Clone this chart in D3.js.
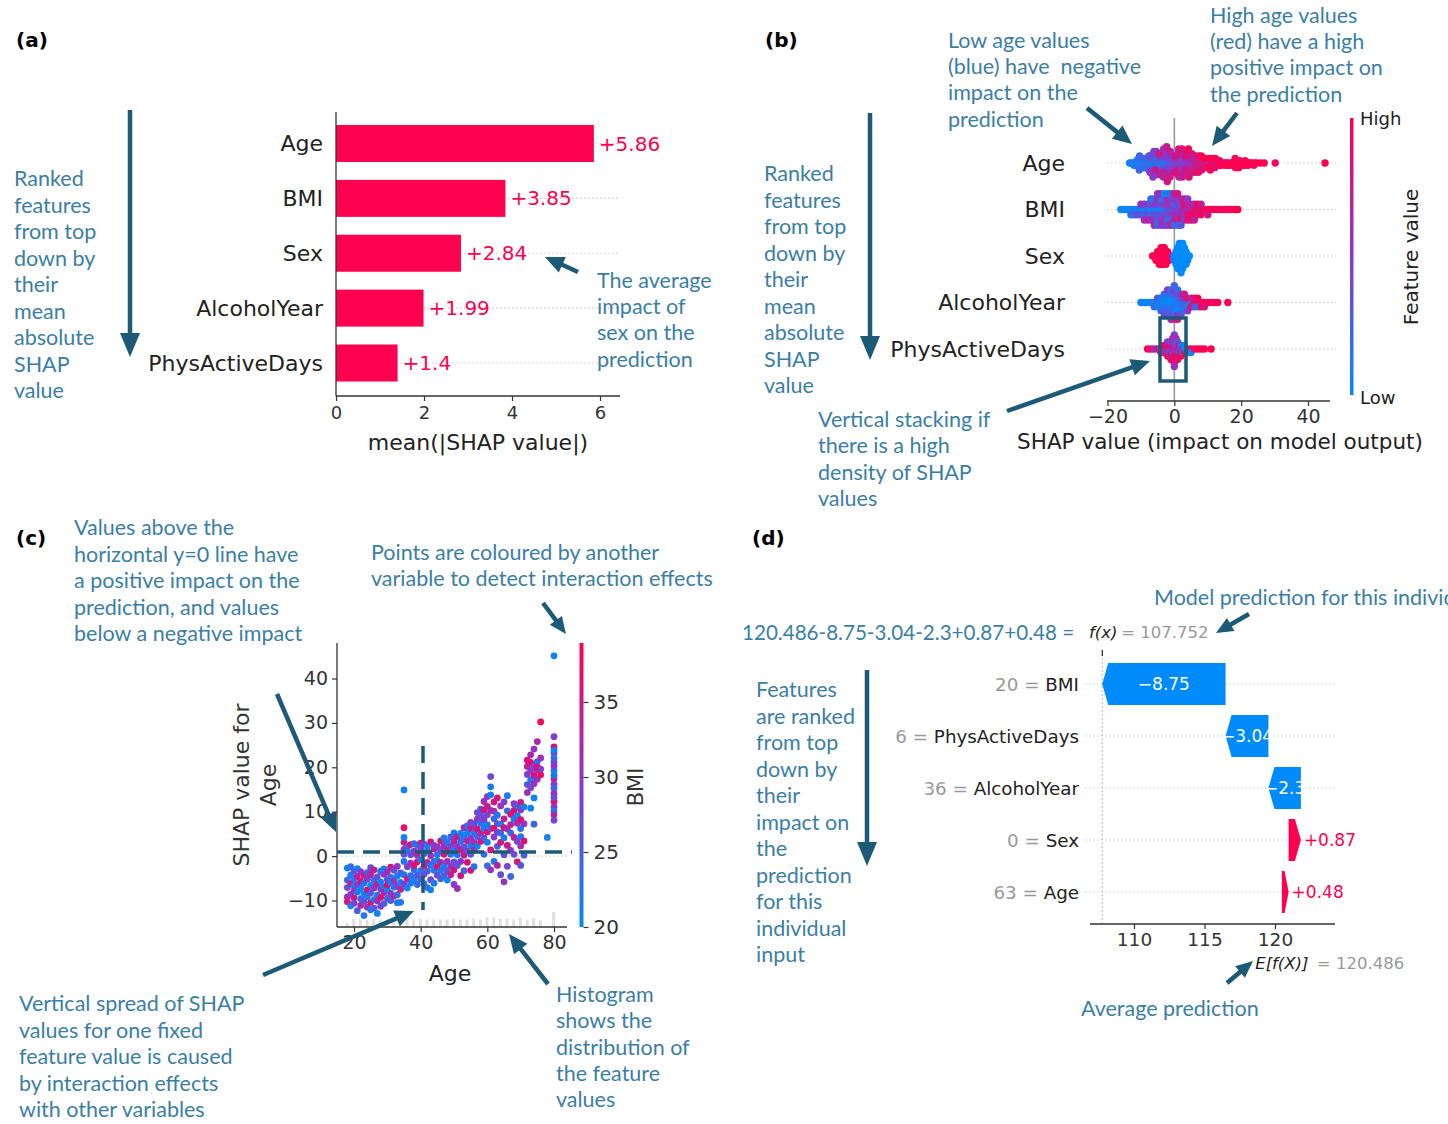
<!DOCTYPE html>
<html><head><meta charset="utf-8">
<script src="https://cdn.jsdelivr.net/npm/d3@7"></script>
<style>body{margin:0;background:#fff}svg text{font-family:"DejaVu Sans",sans-serif;white-space:pre}</style>
</head><body><svg id="c" width="1448" height="1124"></svg>
<script>
// ---------------- DATA ----------------
const features = ["Age","BMI","Sex","AlcoholYear","PhysActiveDays"];
const meanAbsShap = [5.86,3.85,2.84,1.99,1.4];
const meanAbsLabels = ["+5.86","+3.85","+2.84","+1.99","+1.4"];
const barTicks = [0,2,4,6];
const beeTicks = [-20,0,20,40];
const depXTicks = [20,40,60,80];
const depYTicks = [-10,0,10,20,30,40];
const bmiTicks = [20,25,30,35];
const wfTicks = [110,115,120];

// dependence plot: [age, SHAP value for Age, BMI]
const ageDependence = [
[18,-5.4,24],[18,-9.2,31],[18,-2.7,21],[18,-10.3,36],[18,-7.1,27],
[19,-4.3,22],[19,-8.6,29],[19,-11.2,21],[19,-6.2,34],[19,-2.4,23],
[20,-3.3,26],[20,-6.7,21],[20,-9.4,35],[20,-10.6,28],[20,-5.1,22],[20,-7.8,31],
[21,-4.6,33],[21,-8.1,22],[21,-12.3,25],[21,-6.4,29],[21,-2.8,21],
[22,-5.7,36],[22,-9.6,24],[22,-7.3,21],[22,-3.5,30],[22,-11.1,32],
[23,-6.1,22],[23,-10.2,27],[23,-4.4,35],[23,-8.5,21],[23,-13.4,23],
[24,-5.2,29],[24,-7.6,37],[24,-9.1,22],[24,-3.7,25],[24,-11.5,31],
[25,-6.6,21],[25,-4.2,33],[25,-8.3,26],[25,-12.1,22],[25,-10.4,36],[25,-2.6,28],
[26,-5.5,23],[26,-7.2,30],[26,-9.8,21],[26,-3.1,34],[26,-11.7,26],
[27,-6.3,35],[27,-8.8,22],[27,-4.7,27],[27,-10.1,31],[27,-12.9,21],
[28,-5.8,21],[28,-7.4,28],[28,-9.3,36],[28,-3.4,23],[28,-11.3,29],
[29,-4.1,30],[29,-6.9,22],[29,-8.2,34],[29,-10.7,25],[29,-2.9,21],
[30,-5.3,27],[30,-7.7,21],[30,-3.6,32],[30,-9.5,24],[30,-6.5,37],
[31,-4.8,23],[31,-8.4,29],[31,-6.0,21],[31,-2.5,35],[31,-10.0,26],
[32,-5.6,31],[32,-7.0,22],[32,-3.2,27],[32,-9.0,33],
[33,-4.5,21],[33,-6.8,28],[33,-8.7,24],[33,-10.5,22],[33,-2.3,30],
[34,-3.8,25],[34,-5.9,21],[34,-7.5,33],[34,-10.4,22],
[35,-1.2,22],[35,3.1,36],[35,6.4,37],[35,14.9,21],[35,-4.2,23],[35,-6.3,29],[35,0.4,26],[35,4.2,21],[35,1.5,31],
[36,-2.4,28],[36,1.3,22],[36,-5.1,34],[36,2.2,25],[36,-7.2,21],
[37,-1.6,31],[37,-4.4,23],[37,2.6,36],[37,0.3,27],[37,-6.1,22],
[38,-3.1,22],[38,1.1,29],[38,-2.2,35],[38,2.8,24],[38,-5.4,21],
[39,0.2,33],[39,-4.3,26],[39,2.4,22],[39,-1.3,37],[39,-6.4,24],
[40,-3.3,21],[40,1.4,30],[40,2.9,34],[40,-5.2,25],[40,-0.8,22],[40,2.1,28],
[41,-2.3,36],[41,0.6,23],[41,-6.2,21],[41,2.7,30],[41,-4.1,27],
[42,1.2,22],[42,-1.4,33],[42,-3.4,26],[42,2.3,21],[42,-7.1,24],
[43,0.1,31],[43,-2.1,22],[43,3.2,36],[43,-5.3,28],[43,-7.6,21],
[44,-1.2,25],[44,1.6,34],[44,-3.2,21],[44,2.4,29],[44,-6.1,22],
[45,0.3,22],[45,-2.4,37],[45,-4.3,27],[45,2.1,31],[45,-1.1,21],
[46,1.3,28],[46,-3.2,23],[46,3.4,35],[46,-5.1,25],[46,-1.4,33],
[47,-2.2,21],[47,2.3,30],[47,0.4,36],[47,-4.4,24],[47,4.1,22],
[48,1.2,35],[48,-3.3,27],[48,3.1,22],[48,-1.2,31],[48,-5.4,21],
[49,0.4,23],[49,2.2,28],[49,-4.2,34],[49,4.3,25],[49,-2.3,30],
[50,1.1,21],[50,3.3,33],[50,-1.3,27],[50,5.2,22],[50,-6.4,29],[50,-3.1,36],
[51,2.2,30],[51,0.3,22],[51,4.4,35],[51,-2.1,26],[51,-7.3,31],
[52,3.3,24],[52,1.4,34],[52,5.1,21],[52,-1.2,29],[52,-4.4,36],
[53,2.1,27],[53,4.3,22],[53,6.4,31],[53,0.2,35],[53,-3.3,25],
[54,3.4,33],[54,5.2,21],[54,1.1,28],[54,6.8,24],[54,-1.4,36],
[55,4.1,30],[55,2.3,22],[55,6.2,35],[55,0.4,26],[55,7.6,29],[55,-3.2,37],
[56,5.3,22],[56,3.1,31],[56,7.2,27],[56,1.3,34],[56,-2.4,23],
[57,6.1,36],[57,4.4,24],[57,8.3,30],[57,2.2,21],[57,9.8,28],
[58,7.4,22],[58,5.1,33],[58,9.2,27],[58,3.3,36],[58,10.6,25],
[59,8.2,30],[59,6.3,21],[59,10.4,35],[59,4.1,26],[59,12.3,31],[59,0.4,23],
[60,9.3,28],[60,7.1,22],[60,11.2,34],[60,5.4,36],[60,13.4,30],[60,-2.2,24],[60,3.1,21],
[61,17.9,28],[61,15.6,22],[61,10.3,33],[61,6.2,26],[61,1.4,36],[61,13.8,21],[61,-3.1,30],
[62,12.2,35],[62,8.4,24],[62,4.3,29],[62,-1.2,22],[62,10.1,31],[62,6.3,37],
[63,9.2,22],[63,5.4,30],[63,13.1,36],[63,2.2,25],[63,7.3,28],[63,-2.1,33],
[64,11.3,31],[64,7.2,21],[64,3.1,36],[64,-4.2,27],[64,5.2,24],
[65,8.4,34],[65,4.1,22],[65,12.2,29],[65,0.3,26],[65,6.4,37],[65,-5.8,30],
[66,10.2,23],[66,6.1,31],[66,2.4,35],[66,-2.3,28],[66,13.6,22],
[67,9.4,36],[67,5.2,25],[67,1.3,30],[67,-4.6,24],[67,7.1,33],
[68,11.8,30],[68,8.3,22],[68,4.2,34],[68,0.4,27],[68,10.3,37],
[69,11.2,24],[69,7.4,32],[69,3.3,28],[69,-1.3,36],[69,9.1,21],
[70,12.1,35],[70,10.4,29],[70,6.2,23],[70,2.3,31],[70,-2.1,26],[70,8.2,37],[70,4.4,22],
[71,11.1,22],[71,7.3,30],[71,3.4,36],[71,0.2,25],
[72,20.2,33],[72,18.4,29],[72,21.6,36],[72,14.3,31],[72,16.1,26],
[73,21.1,37],[73,19.3,30],[73,17.2,22],[73,10.8,21],[73,15.4,28],[73,22.8,32],
[74,20.4,29],[74,18.2,35],[74,16.3,31],[74,24.1,30],[74,7.2,25],[74,13.1,21],
[75,19.4,34],[75,21.3,23],[75,25.8,32],[75,17.3,30],[75,20.1,36],
[76,30.2,38],[76,18.3,37],[76,22.1,31],[76,19.6,29],
[78,4.2,21],
[80,45.1,21],[80,26.9,29],[80,24.6,36],[80,23.2,33],[80,22.1,22],[80,21.2,27],[80,19.3,21],[80,17.4,35],[80,16.2,29],
[80,15.3,24],[80,14.1,31],[80,12.3,37],[80,11.1,30],[80,10.2,22],[80,9.3,33],[80,8.1,28],[80,23.8,21],[80,20.3,30],[80,18.2,22],[80,13.2,27]
];

// beeswarm rows: [SHAP value, normalised feature value 0..1]
const bmiRow = [[-16,.02],[-15,.05],[-14,.08],[-13,.03],[-13,.15],[-12,.1],[-12,.25],[-11,.05],[-11,.4],[-10,.12],[-10,.3],[-10,.55],
[-9,.08],[-9,.2],[-9,.45],[-9,.6],[-8,.1],[-8,.35],[-8,.5],[-8,.7],[-7,.05],[-7,.25],[-7,.4],[-7,.6],[-7,.15],
[-6,.1],[-6,.3],[-6,.45],[-6,.55],[-6,.2],[-6,.65],[-5,.05],[-5,.35],[-5,.5],[-5,.25],[-5,.6],[-5,.15],[-5,.45],
[-4,.1],[-4,.3],[-4,.4],[-4,.55],[-4,.2],[-4,.5],[-4,.7],[-3,.15],[-3,.35],[-3,.45],[-3,.6],[-3,.25],[-3,.5],[-3,.05],
[-2,.3],[-2,.4],[-2,.55],[-2,.2],[-2,.65],[-2,.45],[-2,.1],[-1,.35],[-1,.5],[-1,.6],[-1,.25],[-1,.45],[-1,.7],[-1,.15],
[0,.4],[0,.55],[0,.3],[0,.65],[0,.5],[0,.2],[0,.75],[1,.45],[1,.6],[1,.35],[1,.7],[1,.55],[1,.25],[1,.8],
[2,.5],[2,.65],[2,.4],[2,.85],[2,.6],[2,.3],[3,.7],[3,.55],[3,.9],[3,.45],[3,.8],[4,.6],[4,.85],[4,.75],[4,.95],[4,.5],
[5,.7],[5,.9],[5,.65],[5,.8],[6,.85],[6,.95],[6,.6],[6,.75],[7,.9],[7,.8],[7,1],[8,.85],[8,.95],[8,.7],[9,.9],
[10,1],[10,.8],[11,.95],[12,.9],[13,1],[14,.95],[15,.9],[16,1],[17,.95],[18,1],[19,1]];
const sexRow = [[-6.5,1],[-6,1],[-5.5,1],[-5.5,1],[-5,1],[-5,1],[-5,1],[-4.5,1],[-4.5,1],[-4.5,1],[-4.5,1],
[-4,1],[-4,1],[-4,1],[-4,1],[-4,1],[-3.5,1],[-3.5,1],[-3.5,1],[-3.5,1],[-3.5,1],[-3,1],[-3,1],[-3,1],[-3,1],[-3,1],
[-2.5,1],[-2.5,1],[-2.5,1],[-2.5,1],[-2,1],[-2,1],[-2,1],[-1.5,1],[-1.5,1],[-1,1],[-0.5,.6],
[0,0],[0,0],[0.5,0],[0.5,0],[0.5,0],[0.5,0],[1,0],[1,0],[1,0],[1,0],[1,0],[1,0],
[1.5,0],[1.5,0],[1.5,0],[1.5,0],[1.5,0],[1.5,0],[1.5,0],[2,0],[2,0],[2,0],[2,0],[2,0],[2,0],[2,0],[2,0],
[2.5,0],[2.5,0],[2.5,0],[2.5,0],[2.5,0],[2.5,0],[2.5,0],[3,0],[3,0],[3,0],[3,0],[3,0],[3.5,0],[3.5,0],[3.5,0],[3.5,0],[4,0],[4,0],[4.5,0]];
const alcoholRow = [[-10,.05],[-9,.1],[-8,0],[-7,.1],[-6,.05],[-6,.2],[-5,.1],[-5,.05],[-5,.3],[-4,0],[-4,.1],[-4,.15],[-4,.2],
[-3,.05],[-3,.1],[-3,0],[-3,.25],[-3,.15],[-3,.4],[-2,0],[-2,.1],[-2,.05],[-2,.2],[-2,.15],[-2,.3],[-2,.5],
[-1,.05],[-1,.1],[-1,0],[-1,.2],[-1,.15],[-1,.35],[-1,.25],[-1,.6],[0,0],[0,.1],[0,.05],[0,.2],[0,.3],[0,.15],[0,.45],[0,.7],[0,.25],
[1,.1],[1,.05],[1,.2],[1,0],[1,.35],[1,.5],[1,.15],[1,.8],[2,.1],[2,.2],[2,.3],[2,.05],[2,.55],[2,.4],
[3,.15],[3,.25],[3,.6],[3,.1],[3,.75],[4,.3],[4,.05],[4,.9],[4,.5],[5,.2],[5,.85],[5,.65],[6,.95],[6,.4],[6,.8],
[7,.9],[7,.15],[7,1],[8,.85],[8,.95],[9,1],[9,.8],[10,.95],[11,1],[12,.9],[13,1],[16,1]];
const physRow = [[-8,1],[-7,.9],[-6,.6],[-5,.8],[-4,.3],[-4,.9],[-3,.5],[-3,.7],[-3,1],[-2,.4],[-2,.6],[-2,.8],[-2,1],[-2,.5],
[-1.5,.7],[-1.5,.4],[-1.5,.9],[-1,.5],[-1,.6],[-1,.8],[-1,1],[-1,.3],[-1,.7],[-0.5,.5],[-0.5,.6],[-0.5,.9],[-0.5,.4],[-0.5,.7],[-0.5,1],[-0.5,.55],
[0,.5],[0,.6],[0,.7],[0,.8],[0,.4],[0,.9],[0,.65],[0,1],[0,.45],[0,.55],[0.5,.6],[0.5,.7],[0.5,.5],[0.5,.9],[0.5,.4],[0.5,.8],[0.5,.65],
[1,.5],[1,.7],[1,.6],[1,1],[1,.3],[1,.85],[1.5,.6],[1.5,.4],[1.5,.9],[2,.5],[2,.8],[2,.2],[2,1],[2.5,.6],[2.5,.1],
[3,.1],[3,.9],[3,.05],[3.5,0],[4,.1],[4,.95],[5,1],[5,.05],[6,.9],[7,1],[8,.95],[9,1],[11,1]];

// waterfall (single prediction)
const wfFeatures = ["BMI","PhysActiveDays","AlcoholYear","Sex","Age"];
const wfFeatureValues = ["20","6","36","0","63"];
const wfShap = [-8.75,-3.04,-2.3,0.87,0.48];
const wfLabels = ["\u22128.75","\u22123.04","\u22122.3","+0.87","+0.48"];
const baseValue = 120.486;
const fxValue = 107.752;

// ---------------- DRAWING ----------------
const svg = d3.select("#c");
const TXT = "#3a7ea6", TEAL = "#1c5a78", RED = "#ff0051", BLUE = "#008bfb", DARK = "#222", GREY = "#999";
const cmap = d3.piecewise(d3.interpolateRgb, [BLUE, "#8a38cc", RED]);
const ANN = "Lato, 'Noto Sans', sans-serif";
const ANN_SIZE = 21.5;

function arrow(x1,y1,x2,y2,o={}) {
  const w=o.w||4.5, hl=o.hl||19, hw=o.hw||17;
  const dx=x2-x1, dy=y2-y1, L=Math.hypot(dx,dy), ux=dx/L, uy=dy/L, px=-uy, py=ux;
  const bx=x2-ux*hl, by=y2-uy*hl;
  svg.append("line").attr("x1",x1).attr("y1",y1).attr("x2",bx+ux*2).attr("y2",by+uy*2)
    .attr("stroke",TEAL).attr("stroke-width",w);
  svg.append("path").attr("d",`M${x2},${y2}L${bx+px*hw/2},${by+py*hw/2}L${bx-px*hw/2},${by-py*hw/2}Z`).attr("fill",TEAL);
}
function lines(x, y0, dy, arr, size=ANN_SIZE, color=TXT) {
  arr.forEach((t,i)=>svg.append("text").attr("x",x).attr("y",y0+i*dy).attr("dominant-baseline","central")
    .style("font-family",ANN).attr("font-size",size).attr("fill",color).text(t));
}
function label(x,y,t,o={}) {
  return svg.append("text").attr("x",x).attr("y",y).attr("dominant-baseline","central")
    .attr("text-anchor",o.anchor||"start").attr("font-size",o.size||20).attr("fill",o.color||DARK)
    .attr("font-weight",o.weight||"normal").text(t);
}
function vlabel(x,y,t,size) {
  svg.append("text").attr("transform",`translate(${x},${y}) rotate(-90)`).attr("text-anchor","middle")
    .attr("dominant-baseline","central").attr("font-size",size).attr("fill","#333").text(t);
}
function gridLine(x1,x2,y) {
  svg.append("line").attr("x1",x1).attr("x2",x2).attr("y1",y).attr("y2",y)
    .attr("stroke","#cccccc").attr("stroke-width",1.2).attr("stroke-dasharray","1.5,2.5");
}
function styleAxis(g, size) {
  g.select(".domain").remove();
  g.selectAll(".tick line").attr("stroke","#333").attr("stroke-width",1.2);
  g.selectAll(".tick text").attr("font-size",size).attr("fill","#333").style("font-family","'DejaVu Sans'");
}
const minus = d => d<0 ? "\u2212"+Math.abs(d) : String(d);

// panel labels
label(16,40,"(a)",{weight:"bold",size:20,color:"#000"});
label(765,40,"(b)",{weight:"bold",size:20,color:"#000"});
label(16,538,"(c)",{weight:"bold",size:20,color:"#000"});
label(752,538,"(d)",{weight:"bold",size:20,color:"#000"});

// shared colour gradient
const defs = svg.append("defs");
const lg = defs.append("linearGradient").attr("id","cbar").attr("x1",0).attr("x2",0).attr("y1",1).attr("y2",0);
d3.range(0,1.01,0.1).forEach(t=>lg.append("stop").attr("offset",t).attr("stop-color",cmap(t)));

// ===== (a) bar chart =====
{
  const x = d3.scaleLinear().domain([0,6]).range([336,600]);
  const y = d3.scalePoint().domain(features).range([143.5,363]);
  features.forEach(f=>gridLine(336,620,y(f)));
  svg.append("g").selectAll("rect").data(features).join("rect")
    .attr("x",x(0)).attr("y",f=>y(f)-18.5).attr("height",37)
    .attr("width",(f,i)=>x(meanAbsShap[i])-x(0)).attr("fill",RED);
  features.forEach((f,i)=>{
    label(x(meanAbsShap[i])+5,y(f),meanAbsLabels[i],{size:20,color:RED});
    label(323,y(f),f,{anchor:"end",size:22});
  });
  svg.append("line").attr("x1",336).attr("x2",336).attr("y1",112).attr("y2",396).attr("stroke","#333").attr("stroke-width",1.3);
  svg.append("line").attr("x1",336).attr("x2",620).attr("y1",396).attr("y2",396).attr("stroke","#333").attr("stroke-width",1.3);
  const g = svg.append("g").attr("transform","translate(0,396)")
    .call(d3.axisBottom(x).tickValues(barTicks).tickFormat(d3.format("d")).tickSize(5).tickPadding(5));
  styleAxis(g,18);
  label(478,442,"mean(|SHAP value|)",{anchor:"middle",size:22});
  arrow(130,110,130,357,{w:4.5,hl:24,hw:20});
  lines(14,178,26.5,["Ranked","features","from top","down by","their","mean","absolute","SHAP","value"]);
  lines(597,280,26.2,["The average","impact of","sex on the","prediction"]);
  arrow(578,272,545,257);
}

// ===== (b) beeswarm =====
function beeswarm(vals, rowHeightPx) {
  const n = vals.length, mn = d3.min(vals), mx = d3.max(vals), nbins = 100;
  const quant = vals.map(v=>Math.round(nbins*(v-mn)/(mx-mn+1e-8)));
  const inds = d3.range(n).sort((a,b)=>quant[a]-quant[b] || a-b);
  let layer=0, last=-1; const ys = new Array(n).fill(0);
  inds.forEach(i=>{ if(quant[i]!==last) layer=0; ys[i]=Math.ceil(layer/2)*((layer%2)*2-1); layer++; last=quant[i]; });
  const m = d3.max(ys.map(v=>v+1));
  return ys.map(v=>v*0.9*(rowHeightPx/m));
}
{
  const x = d3.scaleLinear().domain([-20,40]).range([1107.5,1308]);
  const y = d3.scalePoint().domain(features).range([163,349]);
  const step = 46.5;
  features.forEach(f=>gridLine(1107,1336,y(f)));
  svg.append("line").attr("x1",x(0)).attr("x2",x(0)).attr("y1",118).attr("y2",401).attr("stroke","#999").attr("stroke-width",1.6);
  const ages = ageDependence.map(d=>d[0]).sort(d3.ascending);
  const aMin = d3.quantile(ages,0.05), aMax = d3.quantile(ages,0.95);
  const ageRow = ageDependence.map(d=>[d[1], Math.max(0,Math.min(1,(d[0]-aMin)/(aMax-aMin)))]);
  const rows = {Age:ageRow, BMI:bmiRow, Sex:sexRow, AlcoholYear:alcoholRow, PhysActiveDays:physRow};
  features.forEach(f=>{
    const data = rows[f];
    const offs = beeswarm(data.map(d=>d[0]), 0.5*step);
    svg.append("g").selectAll("circle").data(data).join("circle")
      .attr("cx",d=>x(d[0])).attr("cy",(d,i)=>y(f)+offs[i]).attr("r",3.7)
      .attr("fill",d=>cmap(d[1]));
    label(1065,y(f),f,{anchor:"end",size:22});
  });
  svg.append("line").attr("x1",1107).attr("x2",1330).attr("y1",401).attr("y2",401).attr("stroke","#333").attr("stroke-width",1.3);
  const g = svg.append("g").attr("transform","translate(0,401)")
    .call(d3.axisBottom(x).tickValues(beeTicks).tickFormat(minus).tickSize(5).tickPadding(4));
  styleAxis(g,19);
  label(1220,441,"SHAP value (impact on model output)",{anchor:"middle",size:21.5});
  svg.append("rect").attr("x",1350).attr("y",118).attr("width",3.5).attr("height",277).attr("fill","url(#cbar)");
  label(1360,118,"High",{size:18});
  label(1360,397,"Low",{size:18});
  svg.append("text").attr("transform","translate(1411,257) rotate(-90)").attr("text-anchor","middle")
    .attr("dominant-baseline","central").attr("font-size",20).attr("fill",DARK).text("Feature value");
  svg.append("rect").attr("x",1160).attr("y",318).attr("width",26).attr("height",63)
    .attr("fill","none").attr("stroke",TEAL).attr("stroke-width",3.5);
  lines(948,40,26.2,["Low age values","(blue) have  negative","impact on the","prediction"]);
  lines(1210,15,26.2,["High age values","(red) have a high","positive impact on","the prediction"]);
  arrow(1087,108,1132,144);
  arrow(1237,113,1212,146);
  arrow(870,113,870,360,{w:4.5,hl:24,hw:20});
  lines(764,173,26.5,["Ranked","features","from top","down by","their","mean","absolute","SHAP","value"]);
  lines(818,419,26.3,["Vertical stacking if","there is a high","density of SHAP","values"]);
  arrow(1007,411,1150,361);
}

// ===== (c) dependence plot =====
{
  const x = d3.scaleLinear().domain([20,80]).range([354,554]);
  const y = d3.scaleLinear().domain([-10,40]).range([900.5,678.5]);
  const c = d3.scaleLinear().domain([20,35]).range([927,702]);
  const bmiMax = c.invert(643);
  const col = v => cmap(Math.max(0,Math.min(1,(v-20)/(bmiMax-20))));
  const bins = d3.bin().domain([17,81]).thresholds(d3.range(17,81,2))(ageDependence.map(d=>d[0]));
  const hmax = d3.max(bins,b=>b.length);
  svg.append("g").selectAll("rect").data(bins).join("rect")
    .attr("x",b=>x(b.x0)+1.5).attr("width",3).attr("y",b=>927-15*b.length/hmax).attr("height",b=>15*b.length/hmax)
    .attr("fill","#e0e0e0");
  gridLine(337,567,y(0));
  svg.append("g").selectAll("circle").data(ageDependence).join("circle")
    .attr("cx",d=>x(d[0])).attr("cy",d=>y(d[1])).attr("r",3.4).attr("fill",d=>col(d[2]));
  svg.append("line").attr("x1",337).attr("x2",337).attr("y1",643).attr("y2",927).attr("stroke","#333").attr("stroke-width",1.3);
  svg.append("line").attr("x1",337).attr("x2",567).attr("y1",927).attr("y2",927).attr("stroke","#333").attr("stroke-width",1.3);
  const gx = svg.append("g").attr("transform","translate(0,927)").call(d3.axisBottom(x).tickValues(depXTicks).tickSize(5).tickPadding(4));
  styleAxis(gx,19);
  const gy = svg.append("g").attr("transform","translate(337,0)").call(d3.axisLeft(y).tickValues(depYTicks).tickSize(5).tickPadding(4).tickFormat(minus));
  styleAxis(gy,19);
  label(450,973,"Age",{anchor:"middle",size:22});
  vlabel(241,785,"SHAP value for",22);
  vlabel(268,785,"Age",22);
  svg.append("rect").attr("x",579.5).attr("y",643).attr("width",4).attr("height",284).attr("fill","url(#cbar)");
  const gc = svg.append("g").attr("transform","translate(583.5,0)").call(d3.axisRight(c).tickValues(bmiTicks).tickSize(5).tickPadding(5));
  styleAxis(gc,20);
  vlabel(636,787,"BMI",21);
  svg.append("line").attr("x1",337).attr("x2",572).attr("y1",852).attr("y2",852)
    .attr("stroke",TEAL).attr("stroke-width",3.5).attr("stroke-dasharray","17,9");
  svg.append("line").attr("x1",423).attr("x2",423).attr("y1",746).attr("y2",910)
    .attr("stroke",TEAL).attr("stroke-width",3.5).attr("stroke-dasharray","17,9");
  lines(74,527,26.5,["Values above the","horizontal y=0 line have","a positive impact on the","prediction, and values","below a negative impact"]);
  arrow(277,694,336,832);
  lines(371,552,26,["Points are coloured by another","variable to detect interaction effects"]);
  arrow(543,603,566,634,{hl:17,hw:15});
  lines(19,1003,26.5,["Vertical spread of SHAP","values for one fixed","feature value is caused","by interaction effects","with other variables"]);
  arrow(263,975,414,911);
  lines(556,994,26.3,["Histogram","shows the","distribution of","the feature","values"]);
  arrow(548,984,509,934);
}

// ===== (d) waterfall =====
{
  const x = d3.scaleLinear().domain([110,120]).range([1134,1275]);
  const y = d3.scalePoint().domain(wfFeatures).range([684,892]);
  const bh = 42;
  wfFeatures.forEach(f=>gridLine(1085,1335,y(f)));
  svg.append("line").attr("x1",x(fxValue)).attr("x2",x(fxValue)).attr("y1",650).attr("y2",924)
    .attr("stroke","#bbb").attr("stroke-width",1).attr("stroke-dasharray","2,2");
  svg.append("line").attr("x1",x(fxValue)).attr("x2",x(fxValue)).attr("y1",650).attr("y2",656).attr("stroke","#333").attr("stroke-width",1.3);
  let cum = baseValue; const seg = new Array(wfShap.length);
  for (let i=wfShap.length-1;i>=0;i--){ seg[i]=[cum,cum+wfShap[i]]; cum+=wfShap[i]; }
  wfFeatures.forEach((f,i)=>{
    const x0=x(seg[i][0]), x1=x(seg[i][1]), cy=y(f), top=cy-bh/2, bot=cy+bh/2;
    const w=Math.abs(x1-x0), hl=Math.min(6,w*0.6), dir=x1>x0?1:-1;
    const pts=[[x0,top],[x1-dir*hl,top],[x1,cy],[x1-dir*hl,bot],[x0,bot]];
    svg.append("path").attr("d","M"+pts.map(p=>p.join(",")).join("L")+"Z").attr("fill",dir>0?RED:BLUE);
    if (dir<0) label((x0+x1)/2,cy,wfLabels[i],{anchor:"middle",size:17,color:"#fff"});
    else label(x1+3,cy,wfLabels[i],{anchor:"start",size:17,color:RED});
    const t = label(1079,cy,"",{anchor:"end",size:18.3});
    t.append("tspan").attr("fill",GREY).text(wfFeatureValues[i]+" = ");
    t.append("tspan").attr("fill",DARK).text(f);
  });
  svg.append("line").attr("x1",1090).attr("x2",1335).attr("y1",924).attr("y2",924).attr("stroke","#333").attr("stroke-width",1.3);
  const g = svg.append("g").attr("transform","translate(0,924)").call(d3.axisBottom(x).tickValues(wfTicks).tickSize(5).tickPadding(4));
  styleAxis(g,18.5);
  svg.append("text").attr("x",x(fxValue)+1).attr("y",632).attr("dominant-baseline","central").attr("text-anchor","middle")
    .attr("font-size",16.5).attr("fill",DARK).attr("font-style","italic").text("f(x)");
  label(x(fxValue)+19,632,"= 107.752",{size:16.5,color:GREY});
  svg.append("text").attr("x",x(baseValue)).attr("y",963).attr("dominant-baseline","central").attr("text-anchor","middle")
    .attr("font-size",16.5).attr("fill",DARK).attr("font-style","italic").text("E[f(X)]");
  label(x(baseValue)+35,963,"= 120.486",{size:16.5,color:GREY});
  lines(1154,597,26,["Model prediction for this individual"]);
  lines(742,632,26,["120.486-8.75-3.04-2.3+0.87+0.48 ="],20.6);
  arrow(1249,614,1216,633,{hl:17,hw:15});
  arrow(867,670,867,866,{w:4.5,hl:24,hw:20});
  lines(756,689,26.5,["Features","are ranked","from top","down by","their","impact on","the","prediction","for this","individual","input"]);
  lines(1081,1008,26,["Average prediction"]);
  arrow(1227,983,1253,961,{hl:17,hw:15});
}
</script></body></html>
